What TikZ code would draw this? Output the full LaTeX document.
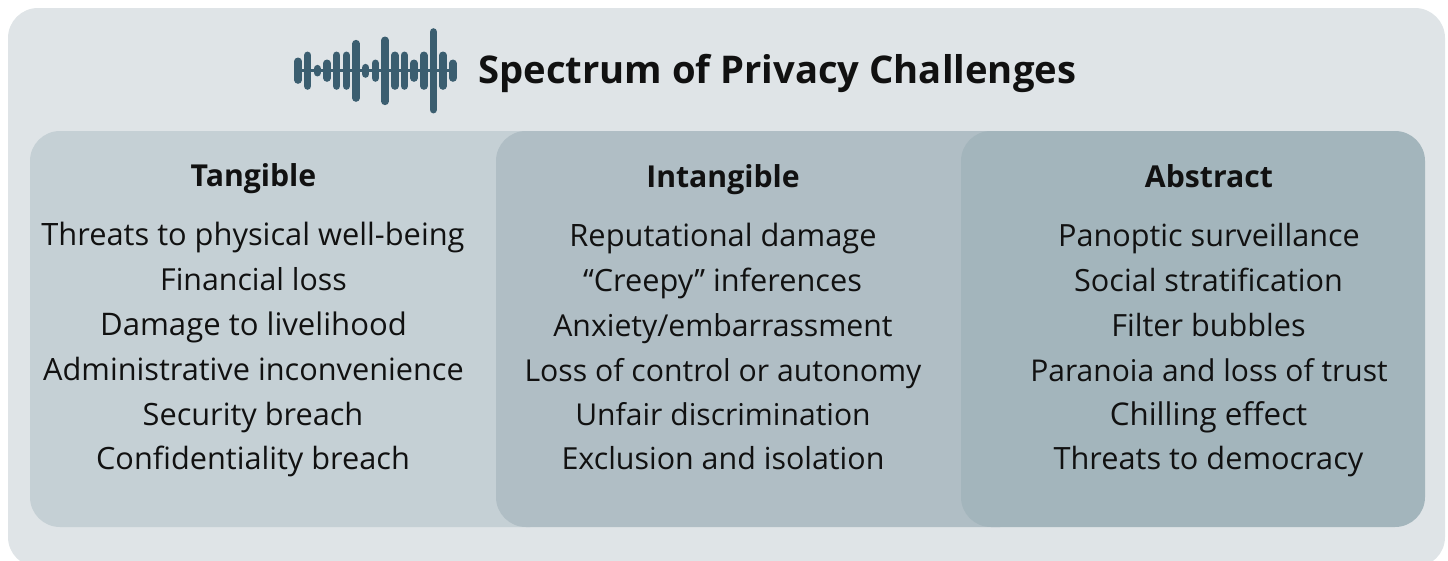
\documentclass[tikz,border=0pt]{standalone}
\usepackage{fontspec}
\setmainfont{Open Sans}
\definecolor{bgout}{HTML}{DFE4E7}
\definecolor{pa}{HTML}{C5D0D5}
\definecolor{pb}{HTML}{B0BEC5}
\definecolor{pc}{HTML}{A3B5BC}
\definecolor{ink}{HTML}{111111}
\definecolor{bar}{HTML}{3B5E70}
\tikzset{
 head/.style={font=\fontsize{30.2}{36}\selectfont\bfseries,text=ink,anchor=base,inner sep=0pt},
 item/.style={font=\fontsize{#1}{36}\selectfont,text=ink,anchor=base,inner sep=0pt},
 wave/.style={line width=7.6pt,line cap=round,draw=bar},
}
\begin{document}
\begin{tikzpicture}[x=1pt,y=-1pt]
\useasboundingbox (0,0) rectangle (1448,560);
\fill[bgout,rounded corners=30pt] (8,8) rectangle (1445,567);
\fill[pa,rounded corners=30pt] (30,131) rectangle (560,527);
\fill[pb,rounded corners=30pt] (496,131) rectangle (1030,527);
\fill[pc,rounded corners=30pt] (961,131) rectangle (1425,527);
\draw[bar,line width=3pt] (298,70.7) -- (453,70.7);
\foreach \i/\t/\e in {0/128/206,1/110/224,2/150/184,3/134/200,4/110/224,5/110/224,6/75/260,7/147/188,8/134/200,9/65/270,10/110/224,11/110/224,12/134/200,13/110/224,14/40/295,15/110/224,16/134/200}{
  \draw[wave] ({298+\i*9.67},{15+(\t+11)/3}) -- ({298+\i*9.67},{15+(\e-11)/3});
}
\node[font=\fontsize{38.2}{44}\selectfont\bfseries,text=ink,anchor=base west,inner sep=0pt] (title) at (478,83) {Spectrum of Privacy Challenges};
\node[head] (h1) at (253.5,186) {Tangible};
\node[head] (h2) at (723,187) {Intangible};
\node[head] (h3) at (1209,187) {Abstract};
\node[item=30.8] (a1) at (253,245) {Threats to physical well-being};
\node[item=30.3] (a2) at (253.5,290) {Financial loss};
\node[item=31.1] (a3) at (253.5,335) {Damage to livelihood};
\node[item=30.7] (a4) at (253.5,380) {Administrative inconvenience};
\node[item=30.7] (a5) at (253,425) {Security breach};
\node[item=30.7] (a6) at (253,469) {Confidentiality breach};
\node[item=30.8] (b1) at (723,246) {Reputational damage};
\node[item=30.7] (b2) at (722.5,291) {“Creepy” inferences};
\node[item=30.2] (b3) at (723,336) {Anxiety/embarrassment};
\node[item=30.2] (b4) at (723,381) {Loss of control or autonomy};
\node[item=30.1] (b5) at (723,425) {Unfair discrimination};
\node[item=30.4] (b6) at (723,469) {Exclusion and isolation};
\node[item=30.6] (c1) at (1209,246) {Panoptic surveillance};
\node[item=30.6] (c2) at (1208.5,291) {Social stratification};
\node[item=30.6] (c3) at (1208.5,336) {Filter bubbles};
\node[item=30.0] (c4) at (1209,381) {Paranoia and loss of trust};
\node[item=31.3] (c5) at (1208.5,425) {Chilling effect};
\node[item=30.7] (c6) at (1208.5,469) {Threats to democracy};
\end{tikzpicture}
\end{document}
